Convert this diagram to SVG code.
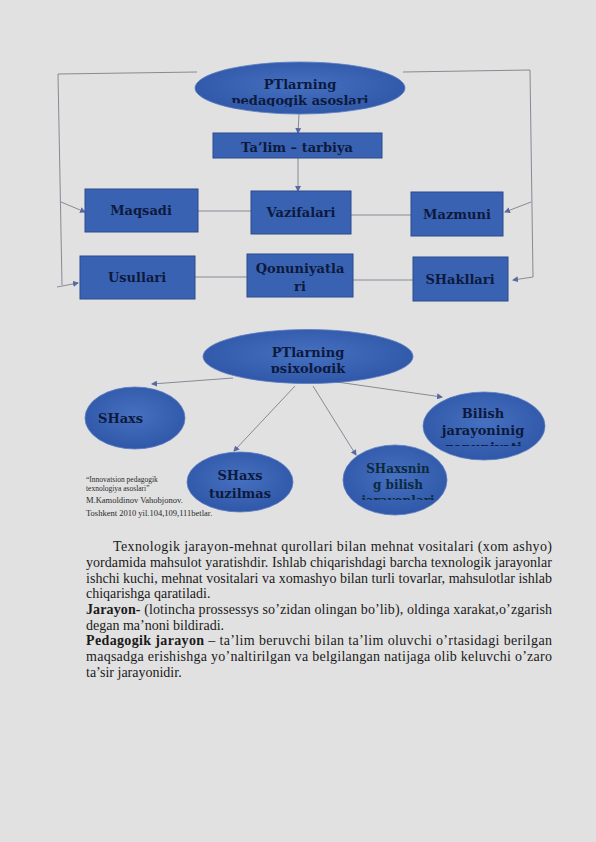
<svg xmlns="http://www.w3.org/2000/svg" width="596" height="842" viewBox="0 0 596 842">
<style>
.bg{fill:#e1e1e1}
.box{fill:#3a62b2;stroke:#2a4a8c;stroke-width:1}
.ell{fill:url(#eg);stroke:#5a7cc4;stroke-width:0.8}
.lbl{font-family:"DejaVu Serif",serif;font-weight:bold;font-size:13px;fill:#0c1a3e;text-anchor:middle}
.ln{stroke:#707480;stroke-width:0.8;fill:none}
.ar{stroke:#707480;stroke-width:0.8;fill:none;marker-end:url(#ah)}
.ref{font-family:"Liberation Serif",serif;font-size:8.5px;fill:#2a2a2a}
.refs{font-size:7.5px}
.body{font-family:"Liberation Serif",serif;font-size:14px;fill:#1a1a1a}
.b{font-weight:bold}
</style>
<defs>
<radialGradient id="eg" cx="50%" cy="45%" r="60%">
<stop offset="0" stop-color="#4670c0"/>
<stop offset="1" stop-color="#2f56a6"/>
</radialGradient>
<marker id="ah" markerWidth="6" markerHeight="6" refX="5" refY="3" orient="auto" markerUnits="userSpaceOnUse">
<path d="M0,0 L6,3 L0,6 z" fill="#5a6aa0"/>
</marker>
<clipPath id="c1"><ellipse cx="300" cy="88" rx="105" ry="19"/></clipPath>
<clipPath id="c2"><rect x="200" y="330" width="215" height="43"/></clipPath>
<clipPath id="c3"><rect x="420" y="400" width="130" height="46"/></clipPath>
<clipPath id="c4"><rect x="340" y="455" width="110" height="45"/></clipPath>
</defs>
<rect class="bg" x="0" y="0" width="596" height="842"/>

<g id="connectors">
<polyline class="ln" points="197,72 58,74 62,285"/>
<line class="ar" x1="57" y1="287" x2="78" y2="283"/>
<line class="ar" x1="61" y1="202" x2="85" y2="212"/>
<polyline class="ln" points="403,72 530,70 533,277"/>
<line class="ar" x1="533" y1="277" x2="513" y2="280"/>
<line class="ar" x1="531" y1="202" x2="505" y2="212"/>
<line class="ar" x1="299" y1="114" x2="298" y2="133"/>
<line class="ar" x1="298" y1="158" x2="298" y2="191"/>
<line class="ln" x1="198" y1="211" x2="251" y2="211"/>
<line class="ln" x1="351" y1="215" x2="411" y2="215"/>
<line class="ln" x1="195" y1="277" x2="247" y2="277"/>
<line class="ln" x1="353" y1="280" x2="413" y2="280"/>
<line class="ar" x1="233" y1="378" x2="152" y2="384"/>
<line class="ar" x1="337" y1="382" x2="442" y2="397"/>
<line class="ar" x1="295" y1="386" x2="234" y2="451"/>
<line class="ar" x1="313" y1="386" x2="356" y2="455"/>
</g>

<g id="n-ped">
<ellipse class="ell" cx="300" cy="88" rx="105" ry="26"/>
<text class="lbl" x="300" y="89">PTlarning</text>
<text class="lbl" x="300" y="105" clip-path="url(#c1)">pedagogik asoslari</text>
</g>
<g id="n-talim">
<rect class="box" x="213" y="133" width="169" height="25"/>
<text class="lbl" x="297" y="152">Ta’lim – tarbiya</text>
</g>
<g id="n-maqsadi">
<rect class="box" x="85" y="189" width="113" height="43"/>
<text class="lbl" x="141" y="215">Maqsadi</text>
</g>
<g id="n-vazifalari">
<rect class="box" x="251" y="191" width="100" height="43"/>
<text class="lbl" x="301" y="217">Vazifalari</text>
</g>
<g id="n-mazmuni">
<rect class="box" x="411" y="192" width="92" height="44"/>
<text class="lbl" x="457" y="219">Mazmuni</text>
</g>
<g id="n-usullari">
<rect class="box" x="80" y="256" width="115" height="43"/>
<text class="lbl" x="137" y="282">Usullari</text>
</g>
<g id="n-qonun">
<rect class="box" x="247" y="254" width="106" height="43"/>
<text class="lbl" x="300" y="273">Qonuniyatla</text>
<text class="lbl" x="300" y="291">ri</text>
</g>
<g id="n-shakl">
<rect class="box" x="413" y="257" width="95" height="44"/>
<text class="lbl" x="460" y="284">SHakllari</text>
</g>

<g id="n-psix">
<ellipse class="ell" cx="308" cy="356.5" rx="105" ry="27"/>
<text class="lbl" x="308" y="357">PTlarning</text>
<text class="lbl" x="308" y="373" clip-path="url(#c2)">psixologik</text>
</g>
<g id="n-shaxs">
<ellipse class="ell" cx="135" cy="418" rx="50" ry="31"/>
<text class="lbl" x="98" y="423" style="text-anchor:start">SHaxs</text>
</g>
<g id="n-bilish">
<ellipse class="ell" cx="484" cy="426" rx="61" ry="34"/>
<text class="lbl" x="483" y="418">Bilish</text>
<text class="lbl" x="483" y="435">jarayoninig</text>
<text class="lbl" x="483" y="452" clip-path="url(#c3)">qonuniyati</text>
</g>
<g id="n-tuzilma">
<ellipse class="ell" cx="240" cy="482" rx="53" ry="30"/>
<text class="lbl" x="240" y="480">SHaxs</text>
<text class="lbl" x="240" y="498">tuzilmas</text>
</g>
<g id="n-shaxsbilish">
<ellipse class="ell" cx="395" cy="480" rx="52" ry="35"/>
<text class="lbl" x="398" y="473" style="font-size:12px;fill:#0c2a40">SHaxsnin</text>
<text class="lbl" x="398" y="489" style="font-size:12px;fill:#0c2a40">g bilish</text>
<text class="lbl" x="398" y="505" style="font-size:12px;fill:#0c2a40" clip-path="url(#c4)">jarayonlari</text>
</g>

<g id="reference">
<text class="ref refs" x="86" y="482">“Innovatsion pedagogik</text>
<text class="ref refs" x="86" y="490.5"> texnologiya asoslari”</text>
<text class="ref" x="86" y="503">M.Kamoldinov Vahobjonov.</text>
<text class="ref" x="86" y="516">Toshkent 2010 yil.104,109,111betlar.</text>
</g>

<g id="body" class="body">
<text x="113" y="551" textLength="439" lengthAdjust="spacing">Texnologik jarayon-mehnat qurollari bilan mehnat vositalari (xom ashyo)</text>
<text x="86" y="567" textLength="466" lengthAdjust="spacing">yordamida mahsulot yaratishdir. Ishlab chiqarishdagi barcha texnologik jarayonlar</text>
<text x="86" y="583" textLength="466" lengthAdjust="spacing">ishchi kuchi, mehnat vositalari va xomashyo bilan turli tovarlar, mahsulotlar ishlab</text>
<text x="86" y="598">chiqarishga qaratiladi.</text>
<text x="86" y="614" textLength="466" lengthAdjust="spacing"><tspan class="b">Jarayon- </tspan>(lotincha prossessys so’zidan olingan bo’lib), oldinga xarakat,o’zgarish</text>
<text x="86" y="630">degan ma’noni bildiradi.</text>
<text x="86" y="645" textLength="466" lengthAdjust="spacing"><tspan class="b">Pedagogik jarayon</tspan> – ta’lim beruvchi bilan ta’lim oluvchi o’rtasidagi berilgan</text>
<text x="86" y="661" textLength="466" lengthAdjust="spacing">maqsadga erishishga yo’naltirilgan va belgilangan natijaga olib keluvchi o’zaro</text>
<text x="86" y="677">ta’sir jarayonidir.</text>
</g>
</svg>
